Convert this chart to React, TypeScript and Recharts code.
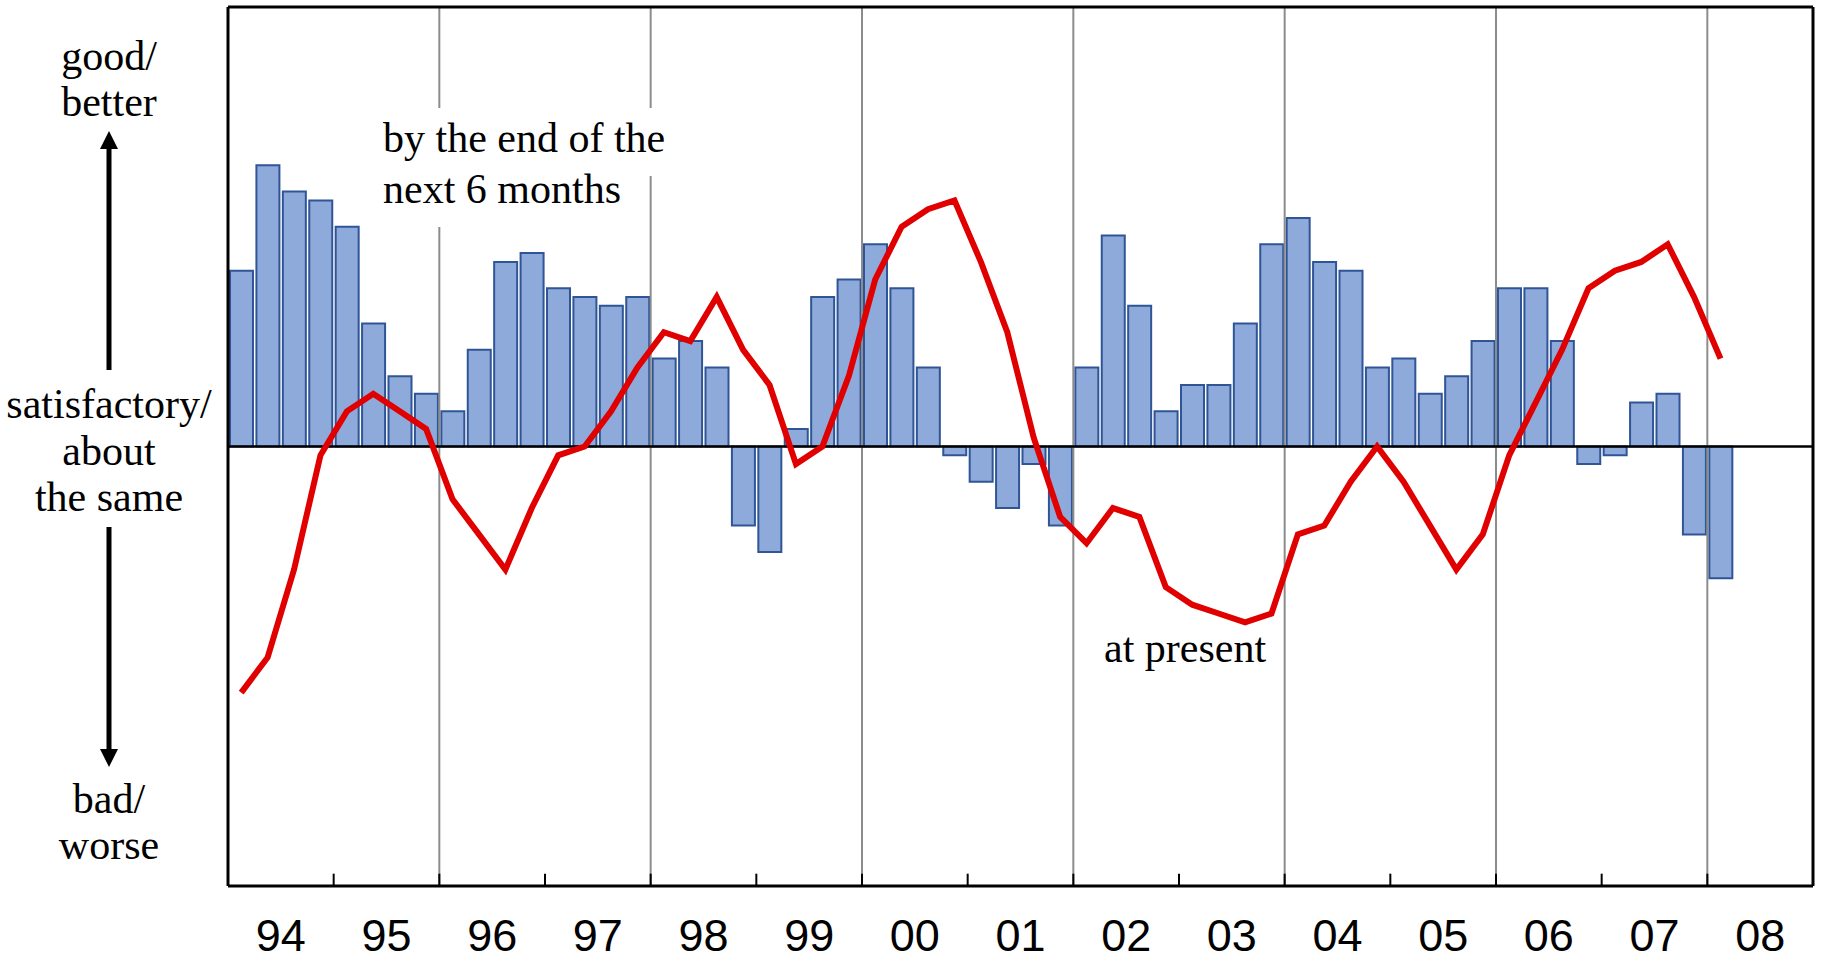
import {
  Bar,
  ComposedChart,
  Line,
  ReferenceLine,
  XAxis,
  YAxis,
} from 'recharts';

document.body.style.margin = '0';

const years = ['94', '95', '96', '97', '98', '99', '00', '01', '02', '03', '04', '05', '06', '07', '08'];
const quarterNames = ['Q1', 'Q2', 'Q3', 'Q4'];

// expectations by the end of the next 6 months (bars), 94Q1..08Q1
const nextSixMonths = [
  20, 32, 29, 28, 25, 14, 8, 6, 4, 11, 21, 22, 18, 17, 16, 17,
  10, 12, 9, -9, -12, 2, 17, 19, 23, 18, 9, -1, -4, -7, -2, -9,
  9, 24, 16, 4, 7, 7, 14, 23, 26, 21, 20, 9, 10, 6, 8, 12,
  18, 18, 12, -2, -1, 5, 6, -10, -15,
];

// assessment at present (line), 94Q1..08Q1
const atPresent = [
  -28, -24, -14, -1, 4, 6, 4, 2, -6, -10, -14, -7, -1, 0, 4, 9,
  13, 12, 17, 11, 7, -2, 0, 8, 19, 25, 27, 28, 21, 13, 1, -8,
  -11, -7, -8, -16, -18, -19, -20, -19, -10, -9, -4, 0, -4, -9, -14, -10,
  -1, 5, 11, 18, 20, 21, 23, 17, 10,
];

const quarters = years.flatMap((y) => quarterNames.map((q) => `${y}${q}`));
const rows = quarters.map((q, i) => ({
  q,
  next: nextSixMonths[i] ?? null,
  present: atPresent[i] ?? null,
}));

// year label sits at the middle of the year = start of Q3
const labelTicks = years.map((y) => `${y}Q3`);
// year boundaries (start of Q1), ticks every year, gray grid every 2nd year
const yearStarts = years.slice(1).map((y) => `${y}Q1`);
const gridStarts = yearStarts.filter((_, i) => i % 2 === 1);

const SERIF = '"Liberation Serif", "Times New Roman", serif';
const SANS = '"Liberation Sans", Arial, sans-serif';

function YearTick(props: any) {
  const { x, payload } = props;
  const label = String(payload.value).slice(0, 2);
  return (
    <text x={x - (payload.offset ?? 0)} y={951} textAnchor="middle" fontSize={45} fontFamily={SANS} fill="#000">
      {label}
    </text>
  );
}

function SideLabels() {
  const lbl = (t: string, y: number) => (
    <text key={t} x={109} y={y} textAnchor="middle" dominantBaseline="central" fontSize={42} fontFamily={SERIF} fill="#000">
      {t}
    </text>
  );
  return (
    <svg width={1821} height={960} style={{ position: 'absolute', left: 0, top: 0, pointerEvents: 'none' }}>
      {lbl('good/', 56)}
      {lbl('better', 102)}
      {lbl('satisfactory/', 404)}
      {lbl('about', 451)}
      {lbl('the same', 497)}
      {lbl('bad/', 799)}
      {lbl('worse', 845)}
      <line x1={109} y1={370} x2={109} y2={145} stroke="#000" strokeWidth={5} />
      <polygon points="109,131 100,149 118,149" fill="#000" />
      <line x1={109} y1={527} x2={109} y2={753} stroke="#000" strokeWidth={5} />
      <polygon points="109,767 100,749 118,749" fill="#000" />

      <rect x={375} y={108} width={320} height={68} fill="#fff" />
      <rect x={375} y={176} width={265} height={51} fill="#fff" />
      <text x={383} y={152} fontSize={42} fontFamily={SERIF} fill="#000">by the end of the</text>
      <text x={383} y={203} fontSize={42} fontFamily={SERIF} fill="#000">next 6 months</text>
      <text x={1104} y={662} fontSize={42} fontFamily={SERIF} fill="#000">at present</text>
    </svg>
  );
}

export default function App() {
  return (
    <div style={{ position: 'relative', width: 1821, height: 960, background: '#fff' }}>
      <ComposedChart
        width={1821}
        height={960}
        data={rows}
        margin={{ top: 7, right: 8, bottom: 0, left: 228 }}
      >
        <XAxis
          dataKey="q"
          ticks={labelTicks}
          interval={0}
          tick={YearTick}
          axisLine={false}
          tickLine={false}
          height={74}
        />
        <YAxis domain={[-50, 50]} hide allowDataOverflow />
        {gridStarts.map((s) => (
          <ReferenceLine key={`g${s}`} x={s} position="start" stroke="#8c8c8c" strokeWidth={2} />
        ))}
        {yearStarts.map((s) => (
          <ReferenceLine
            key={`t${s}`}
            position="start"
            segment={[{ x: s, y: -50 }, { x: s, y: -48.6 }]}
            stroke="#000"
            strokeWidth={2}
          />
        ))}
        <Bar
          dataKey="next"
          barSize={23}
          fill="#8eaadb"
          stroke="#2f5597"
          strokeWidth={2}
          isAnimationActive={false}
        />
        <ReferenceLine y={0} stroke="#000" strokeWidth={2.5} />
        <Line
          dataKey="present"
          type="linear"
          stroke="#e00000"
          strokeWidth={6}
          dot={false}
          activeDot={false}
          isAnimationActive={false}
        />
        {/* plot frame */}
        <ReferenceLine y={50} stroke="#000" strokeWidth={3} ifOverflow="visible" />
        <ReferenceLine y={-50} stroke="#000" strokeWidth={3} ifOverflow="visible" />
        <ReferenceLine x={quarters[0]} position="start" stroke="#000" strokeWidth={3} ifOverflow="visible" />
        <ReferenceLine x={quarters[quarters.length - 1]} position="end" stroke="#000" strokeWidth={3} ifOverflow="visible" />
      </ComposedChart>
      <SideLabels />
    </div>
  );
}
